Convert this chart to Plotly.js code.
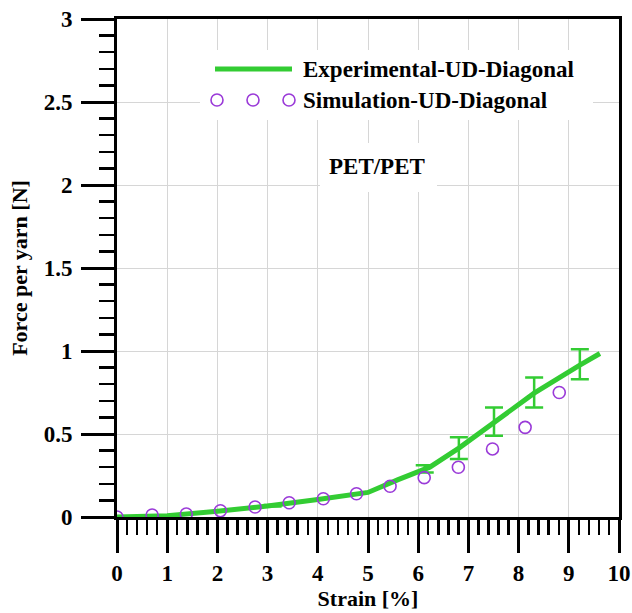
<!DOCTYPE html>
<html>
<head>
<meta charset="utf-8">
<script src="https://cdn.plot.ly/plotly-3.0.1.min.js"></script>
<style>html,body{margin:0;padding:0;background:#fff;}#chart{width:632px;height:613px;}</style>
</head>
<body>
<div id="chart"></div>
<script>
// Experimental curve (Experimental-UD-Diagonal)
const expStrain = [0, 1, 2, 3, 4, 5, 5.6, 6.23, 6.81, 7.51, 8.31, 9.22, 9.62];
const expForce  = [0, 0.008, 0.035, 0.066, 0.105, 0.148, 0.225, 0.30, 0.415, 0.566, 0.746, 0.915, 0.985];

// Error bars on the experimental curve
const errStrain = [3.1, 6.13, 6.81, 7.51, 8.31, 9.22];
const errForce  = [0.068, 0.29, 0.415, 0.575, 0.75, 0.92];
const errHalf   = [0.005, 0.022, 0.065, 0.085, 0.09, 0.09];

// Simulation points (Simulation-UD-Diagonal)
const simStrain = [0, 0.70, 1.38, 2.06, 2.75, 3.43, 4.11, 4.77, 5.44, 6.12, 6.80, 7.48, 8.13, 8.81];
const simForce  = [0, 0.012, 0.018, 0.038, 0.06, 0.086, 0.11, 0.14, 0.185, 0.237, 0.30, 0.41, 0.54, 0.75];

const xTicks = [0,1,2,3,4,5,6,7,8,9,10];
const yTicks = [0,0.5,1,1.5,2,2.5,3];
const yTickText = ['0','0.5','1','1.5','2','2.5','3'];

const GREEN = '#33cc33';
const PURPLE = '#9a3ad8';
const FONT = 'Liberation Serif, Times New Roman, serif';

const traces = [
  {
    x: expStrain, y: expForce, type: 'scatter', mode: 'lines',
    name: 'Experimental-UD-Diagonal',
    line: {color: GREEN, width: 5}, showlegend: false
  },
  {
    x: errStrain, y: errForce, type: 'scatter', mode: 'markers',
    name: 'Experimental error', showlegend: false,
    marker: {size: 1, color: 'rgba(0,0,0,0)'},
    error_y: {type: 'data', array: errHalf, visible: true, color: GREEN, thickness: 2.5, width: 9}
  },
  {
    x: simStrain, y: simForce, type: 'scatter', mode: 'markers',
    name: 'Simulation-UD-Diagonal', showlegend: false,
    marker: {symbol: 'circle-open', size: 12, color: PURPLE, line: {width: 1.6, color: PURPLE}}
  }
];

// plot-area paper mapping helpers for decorations (legend / label)
const L = 117, R = 619, T = 19, B = 517;
const px = v => (v - L) / (R - L);
const py = v => (B - v) / (B - T);

const shapes = [
  // legend background
  {type: 'rect', xref: 'paper', yref: 'paper', x0: px(200), x1: px(593), y0: py(120), y1: py(50),
   fillcolor: 'white', line: {width: 0}, layer: 'above'},
  // label background
  {type: 'rect', xref: 'paper', yref: 'paper', x0: px(320), x1: px(437), y0: py(192), y1: py(143),
   fillcolor: 'white', line: {width: 0}, layer: 'above'},
  // legend line sample
  {type: 'line', xref: 'paper', yref: 'paper', x0: px(215), x1: px(292), y0: py(69), y1: py(69),
   line: {color: GREEN, width: 5}, layer: 'above'}
];
[217, 253, 289].forEach(cx => {
  shapes.push({type: 'circle', xref: 'paper', yref: 'paper',
    x0: px(cx - 6), x1: px(cx + 6), y0: py(100 + 6), y1: py(100 - 6),
    line: {color: PURPLE, width: 1.6}, layer: 'above'});
});

const annFont = {family: FONT, size: 23, color: 'black', weight: 'bold'};
const annotations = [
  {xref: 'paper', yref: 'paper', x: px(301), y: py(69), xanchor: 'left', yanchor: 'middle',
   text: 'Experimental-UD-Diagonal', showarrow: false, font: annFont},
  {xref: 'paper', yref: 'paper', x: px(301), y: py(100), xanchor: 'left', yanchor: 'middle',
   text: 'Simulation-UD-Diagonal', showarrow: false, font: annFont},
  {xref: 'paper', yref: 'paper', x: px(377), y: py(166), xanchor: 'center', yanchor: 'middle',
   text: 'PET/PET', showarrow: false, font: annFont}
];

const axisCommon = {
  showline: true, linecolor: 'black', linewidth: 3, mirror: true,
  ticks: 'outside', ticklen: 33, tickwidth: 3, tickcolor: 'black',
  showgrid: true, gridcolor: '#d6d6d6', gridwidth: 1, zeroline: false,
  tickfont: {family: FONT, size: 23, color: 'black', weight: 'bold'}
};

const layout = {
  width: 632, height: 613,
  margin: {l: L, r: 632 - R, t: T, b: 613 - B},
  paper_bgcolor: 'white', plot_bgcolor: 'white',
  showlegend: false,
  xaxis: Object.assign({}, axisCommon, {
    range: [0, 10], tickmode: 'array', tickvals: xTicks, ticktext: xTicks.map(String),
    ticklabelstandoff: 0,
    minor: {dtick: 0.2, ticks: 'outside', ticklen: 15, tickwidth: 2.5, tickcolor: 'black', showgrid: false},
    title: {text: 'Strain [%]', font: {family: FONT, size: 22, color: 'black', weight: 'bold'}, standoff: 4}
  }),
  yaxis: Object.assign({}, axisCommon, {
    range: [0, 3], tickmode: 'array', tickvals: yTicks, ticktext: yTickText,
    ticklabelstandoff: 4,
    minor: {dtick: 0.1, ticks: 'outside', ticklen: 15, tickwidth: 2.5, tickcolor: 'black', showgrid: false},
    title: {text: 'Force per yarn [N]', font: {family: FONT, size: 22, color: 'black', weight: 'bold'}, standoff: 10}
  }),
  shapes: shapes,
  annotations: annotations
};

Plotly.newPlot('chart', traces, layout, {displayModeBar: false, staticPlot: true});
</script>
</body>
</html>
